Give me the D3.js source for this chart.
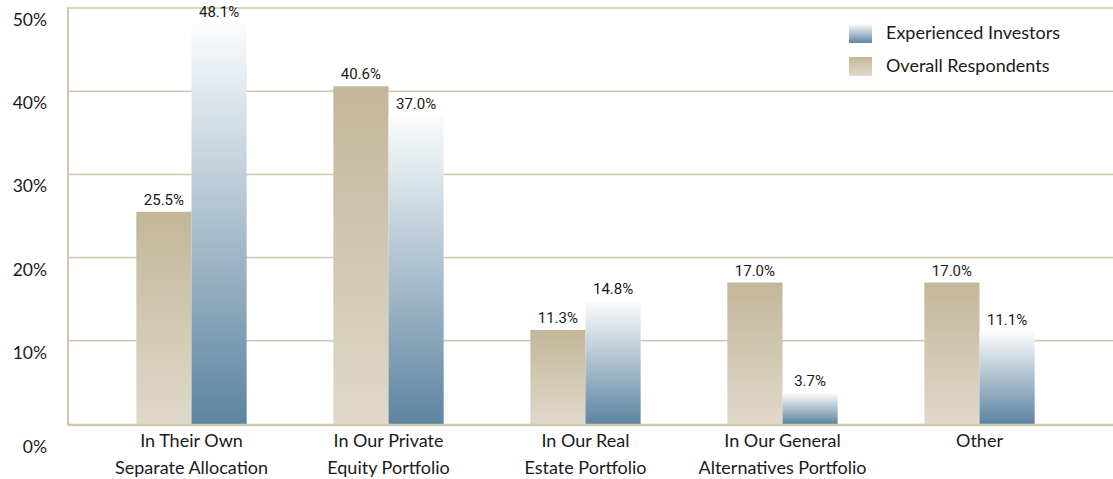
<!DOCTYPE html>
<html>
<head>
<meta charset="utf-8">
<script src="https://cdn.jsdelivr.net/npm/d3@7"></script>
<style>
  body { margin: 0; background: #fff; }
  text { font-family: Lato, "Noto Sans", sans-serif; fill: #1a1a1a; }
  .value { font-family: "Liberation Sans Narrow", "Roboto", sans-serif; font-size: 15px; }
</style>
</head>
<body>
<script>
// categories, each label split in two lines
const categories = [
    ["In Their Own", "Separate Allocation"],
    ["In Our Private", "Equity Portfolio"],
    ["In Our Real", "Estate Portfolio"],
    ["In Our General", "Alternatives Portfolio"],
    ["Other"]
]
const overall = [25.5, 40.6, 11.3, 17.0, 17.0]
const experienced = [48.1, 37.0, 14.8, 3.7, 11.1]
const yTicks = [0, 10, 20, 30, 40, 50]
const seriesNames = ["Overall Respondents", "Experienced Investors"]

const outerWidth = 1113, outerHeight = 479
const margin = {left:68, top:8, right:0, bottom:55}

const svg = d3.select("body").append("svg")
    .attr("width", outerWidth)
    .attr("height", outerHeight)

// gradients for the two series
const defs = svg.append("defs")
const tanGrad = defs.append("linearGradient").attr("id", "tan").attr("x1", 0).attr("y1", 0).attr("x2", 0).attr("y2", 1)
tanGrad.append("stop").attr("offset", "0%").attr("stop-color", "#c3b699")
tanGrad.append("stop").attr("offset", "100%").attr("stop-color", "#e0d9ca")
const blueGrad = defs.append("linearGradient").attr("id", "blue").attr("x1", 0).attr("y1", 0).attr("x2", 0).attr("y2", 1)
blueGrad.append("stop").attr("offset", "0%").attr("stop-color", "#fbfcfd")
blueGrad.append("stop").attr("offset", "100%").attr("stop-color", "#5d84a0")

// y scale: 0% on the bottom axis, 50% on the top gridline
const y = d3.scaleLinear().domain([0, 50]).range([424, margin.top])

const x0 = d3.scaleBand().domain(d3.range(categories.length))
    .range([93, 1078]).paddingInner(0.44).paddingOuter(0.22)
const x1 = d3.scaleBand().domain([0, 1]).range([0, x0.bandwidth()])

const lineColor = "#d2c7ae"

// gridlines
svg.append("g").selectAll("line")
    .data(yTicks.filter(t => t > 0))
    .join("line")
    .attr("x1", margin.left).attr("x2", outerWidth)
    .attr("y1", d => y(d)).attr("y2", d => y(d))
    .attr("stroke", lineColor).attr("stroke-width", 1.5)

// tick labels (sit a bit below their gridline)
svg.append("g").selectAll("text")
    .data(yTicks)
    .join("text")
    .attr("x", 47)
    .attr("y", d => y(d) + (d == 0 ? 29 : 18))
    .attr("text-anchor", "end")
    .style("font-size", "17.5px")
    .text(d => d + "%")

// bars
const groups = svg.append("g").selectAll("g")
    .data(categories.map((c, i) => ({i, vals: [overall[i], experienced[i]]})))
    .join("g")
    .attr("transform", d => `translate(${x0(d.i)},0)`)

groups.selectAll("rect")
    .data(d => d.vals.map((v, k) => ({v, k})))
    .join("rect")
    .attr("x", d => x1(d.k))
    .attr("width", x1.bandwidth())
    .attr("y", d => y(d.v))
    .attr("height", d => y(0) - y(d.v))
    .attr("fill", d => d.k == 0 ? "url(#tan)" : "url(#blue)")

groups.selectAll(".value")
    .data(d => d.vals.map((v, k) => ({v, k})))
    .join("text")
    .attr("class", "value")
    .attr("x", d => x1(d.k) + x1.bandwidth() / 2)
    .attr("y", d => y(d.v) - 7)
    .attr("text-anchor", "middle")
    .text(d => d.v.toFixed(1) + "%")

// axes lines
svg.append("line")
    .attr("x1", margin.left).attr("x2", margin.left)
    .attr("y1", y(50) - 1).attr("y2", y(0) + 1)
    .attr("stroke", lineColor).attr("stroke-width", 2)
svg.append("line")
    .attr("x1", margin.left).attr("x2", outerWidth)
    .attr("y1", y(0) + 1).attr("y2", y(0) + 1)
    .attr("stroke", lineColor).attr("stroke-width", 2.5)

// category labels
svg.append("g").selectAll("text")
    .data(categories)
    .join("text")
    .attr("x", (d, i) => x0(i) + x0.bandwidth() / 2)
    .attr("y", 447)
    .attr("text-anchor", "middle")
    .style("font-size", "18px")
    .selectAll("tspan")
    .data(d => d)
    .join("tspan")
    .attr("x", function() { return this.parentNode.getAttribute("x") })
    .attr("dy", (d, i) => i == 0 ? 0 : 27)
    .text(d => d)

// legend
const legend = svg.append("g").attr("transform", "translate(849,24)")
const legendItems = [
    {name: seriesNames[1], fill: "url(#blue)"},
    {name: seriesNames[0], fill: "url(#tan)"}
]
legend.selectAll("rect")
    .data(legendItems)
    .join("rect")
    .attr("x", 0).attr("y", (d, i) => i * 33)
    .attr("width", 23).attr("height", 19)
    .attr("fill", d => d.fill)
legend.selectAll("text")
    .data(legendItems)
    .join("text")
    .attr("x", 37).attr("y", (d, i) => i * 33 + 15)
    .style("font-size", "18px")
    .text(d => d.name)
</script>
</body>
</html>
